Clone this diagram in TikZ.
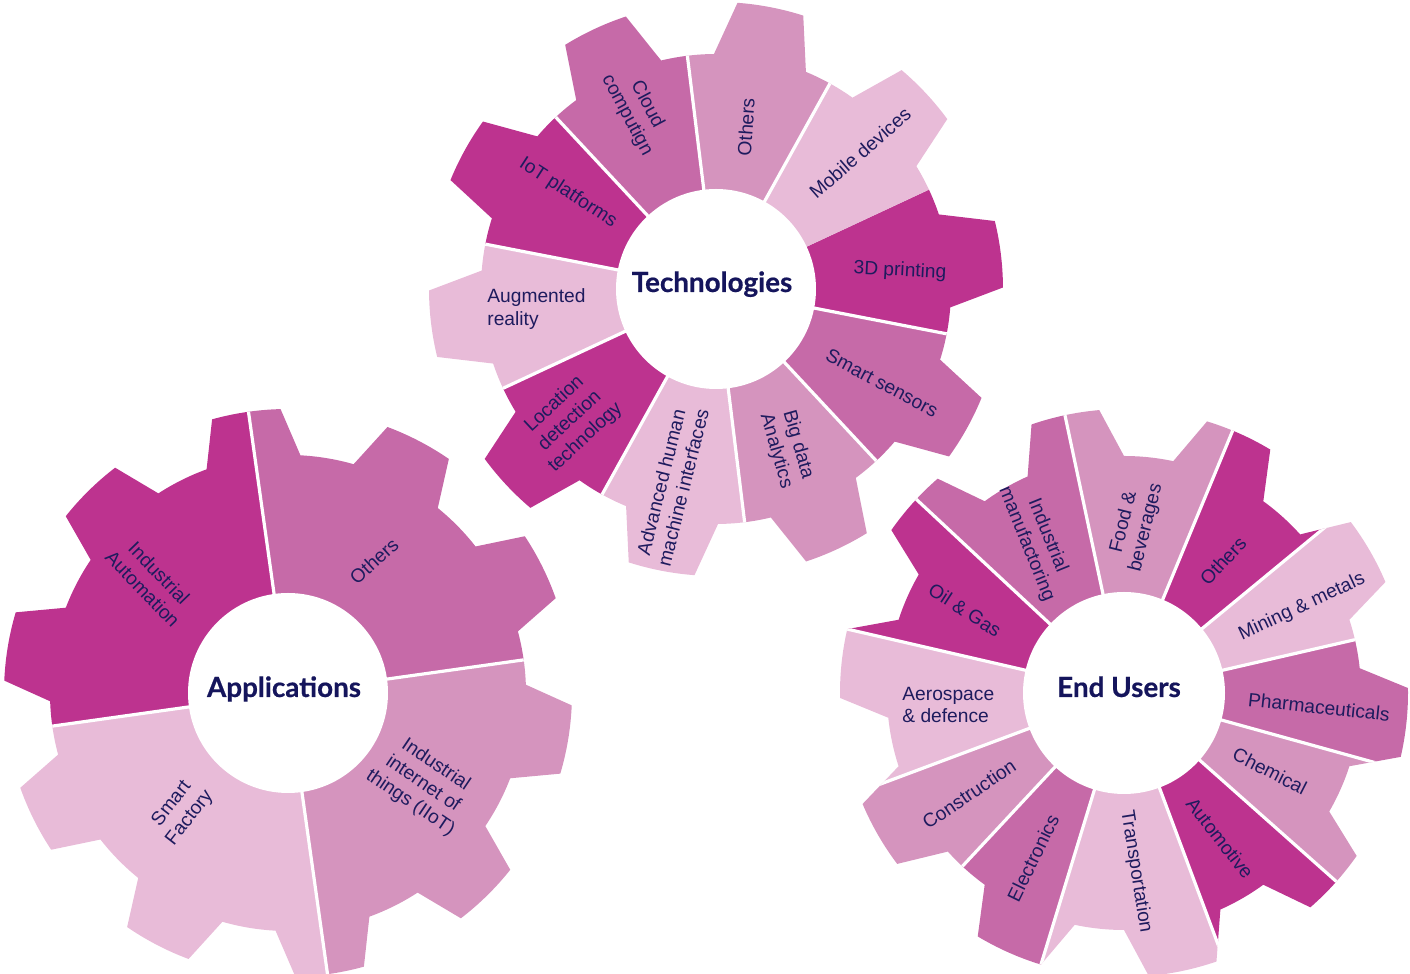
\documentclass[tikz,border=0pt]{standalone}
\usepackage{fontspec}
\setmainfont{Liberation Sans}
\newfontfamily\titlefont[FakeBold=0.5]{Lato}
\definecolor{cdark}{HTML}{BD338F}
\definecolor{cmed}{HTML}{C66AA8}
\definecolor{clmed}{HTML}{D594BE}
\definecolor{clight}{HTML}{E8BBD8}
\definecolor{navy}{HTML}{1E1B5E}
\definecolor{tnavy}{HTML}{15155C}
\newcommand\gearoutline[5]{%
  ({#1-#5}:#3) \foreach \k in {0,...,9}{
    -- ({#1+36*\k-#5}:#3) -- ({#1+36*\k-#4}:#2)
    arc[start angle={#1+36*\k-#4}, end angle={#1+36*\k+#4}, radius=#2]
    -- ({#1+36*\k+#5}:#3)
    arc[start angle={#1+36*\k+#5}, end angle={#1+36*\k+36-#5}, radius=#3]
  } -- cycle}
\newcommand\wedgefill[3]{\fill[#1] (0,0) -- ({#2}:330) arc[start angle={#2}, end angle={#3}, radius=330] -- cycle;}
\tikzset{
  sep/.style={white, line width=1.6pt},
  lbl/.style={text=navy, font=\fontsize{9.6}{11.4}\selectfont, align=center, inner sep=0pt},
  ttl/.style={text=tnavy, font=\titlefont\bfseries\fontsize{13.9}{16}\selectfont, inner sep=0pt, anchor=base},
}
\begin{document}
\begin{tikzpicture}[x=0.5pt, y=0.5pt]
\useasboundingbox (0,0) rectangle (1410,974);
% ---------------- Technologies
\begin{scope}[shift={(716,685)}]
  \begin{scope}
    \clip \gearoutline{7}{287}{235}{6.7}{11.5};
    \wedgefill{clmed}{61}{97}
    \wedgefill{cmed}{97}{133}
    \wedgefill{cdark}{133}{169}
    \wedgefill{clight}{169}{205}
    \wedgefill{cdark}{205}{241}
    \wedgefill{clight}{241}{277}
    \wedgefill{clmed}{277}{313}
    \wedgefill{cmed}{313}{349}
    \wedgefill{cdark}{-11}{25}
    \wedgefill{clight}{25}{61}
    \foreach \a in {61,97,...,349} \draw[sep] (0,0) -- (\a:330);
  \end{scope}
  \fill[white] (0,0) circle[radius=100];
\end{scope}
% ---------------- Applications
\begin{scope}[shift={(288,281)}]
  \begin{scope}
    \clip \gearoutline{26.5}{284}{238}{7}{11.5};
    \wedgefill{cmed}{8}{98}
    \wedgefill{cdark}{98}{188}
    \wedgefill{clight}{188}{278}
    \wedgefill{clmed}{278}{368}
    \foreach \a in {8,98,188,278} \draw[sep] (0,0) -- (\a:330);
  \end{scope}
  \fill[white] (0,0) circle[radius=100];
\end{scope}
% ---------------- End Users
\begin{scope}[shift={(1124,281)}]
  \begin{scope}
    \clip \gearoutline{30}{284}{237}{7}{12};
    \wedgefill{cmed}{102}{137}
    \wedgefill{clmed}{67.5}{102}
    \wedgefill{cdark}{39.5}{67.5}
    \wedgefill{clight}{13}{39.5}
    \wedgefill{cmed}{-15.5}{13}
    \wedgefill{clmed}{-41.6}{-15.5}
    \wedgefill{cdark}{-69.5}{-41.6}
    \wedgefill{clight}{-107}{-69.5}
    \wedgefill{cmed}{227}{253}
    \wedgefill{clmed}{200.5}{227}
    \wedgefill{clight}{167}{200.5}
    \wedgefill{cdark}{137}{167}
    \foreach \a in {102,67.5,39.5,13,-15.5,-41.6,-69.5,-107,-133,-159.5,167,137} \draw[sep] (0,0) -- (\a:330);
  \end{scope}
  \fill[white] (0,0) circle[radius=101];
\end{scope}
% ---------------- titles
\node[ttl] (tech) at (712,682) {Technologies};
\node[ttl] (app) at (284,277) {Applications};
\node[ttl] (end) at (1119,277) {End Users};
% ---------------- Technologies labels
\node[lbl, rotate=-62] (t1) at (637,864) {Cloud\\computign};
\node[lbl, rotate=86] (t2) at (746,847) {Others};
\node[lbl, rotate=41] (t3) at (860,821) {Mobile devices};
\node[lbl, rotate=-3] (t4) at (900,703) {3D printing};
\node[lbl, rotate=-28] (t5) at (882,591) {Smart sensors};
\node[lbl, rotate=-74] (t6) at (787,526) {Big data\\Analytics};
\node[lbl, rotate=76] (t7) at (672,489) {Advanced human\\machine interfaces};
\node[lbl, rotate=43] (t8) at (570,553) {Location\\detection\\technology};
\node[lbl, align=left, anchor=west] (t9) at (487,665) {Augmented\\reality};
\node[lbl, rotate=-33] (t10) at (568,781) {IoT platforms};
% ---------------- Applications labels
\node[lbl, rotate=-46] (a1) at (151,393) {Industrial\\Automation};
\node[lbl, rotate=42] (a2) at (374,413) {Others};
\node[lbl, rotate=-34] (a3) at (423,190) {Industrial\\internet of\\things (IIoT)};
\node[lbl, rotate=52] (a4) at (181,163) {Smart\\Factory};
% ---------------- End Users labels
\node[lbl, rotate=-68] (e1) at (1037,434) {Industrial\\manufactoring};
\node[lbl, rotate=76] (e2) at (1135,449) {Food \&\\beverages};
\node[lbl, rotate=47] (e3) at (1223,413) {Others};
\node[lbl, rotate=25] (e4) at (1302,367) {Mining \& metals};
\node[lbl, rotate=-6] (e5) at (1319,267) {Pharmaceuticals};
\node[lbl, rotate=-27] (e6) at (1270,203) {Chemical};
\node[lbl, rotate=-52] (e7) at (1220,136) {Automotive};
\node[lbl, rotate=-81] (e8) at (1136,102) {Transportation};
\node[lbl, rotate=64] (e9) at (1033,116) {Electronics};
\node[lbl, rotate=34] (e10) at (969,180) {Construction};
\node[lbl, align=left, anchor=west] (e11) at (902,269) {Aerospace\\\& defence};
\node[lbl, rotate=-33] (e12) at (965,364) {Oil \& Gas};
\end{tikzpicture}
\end{document}
